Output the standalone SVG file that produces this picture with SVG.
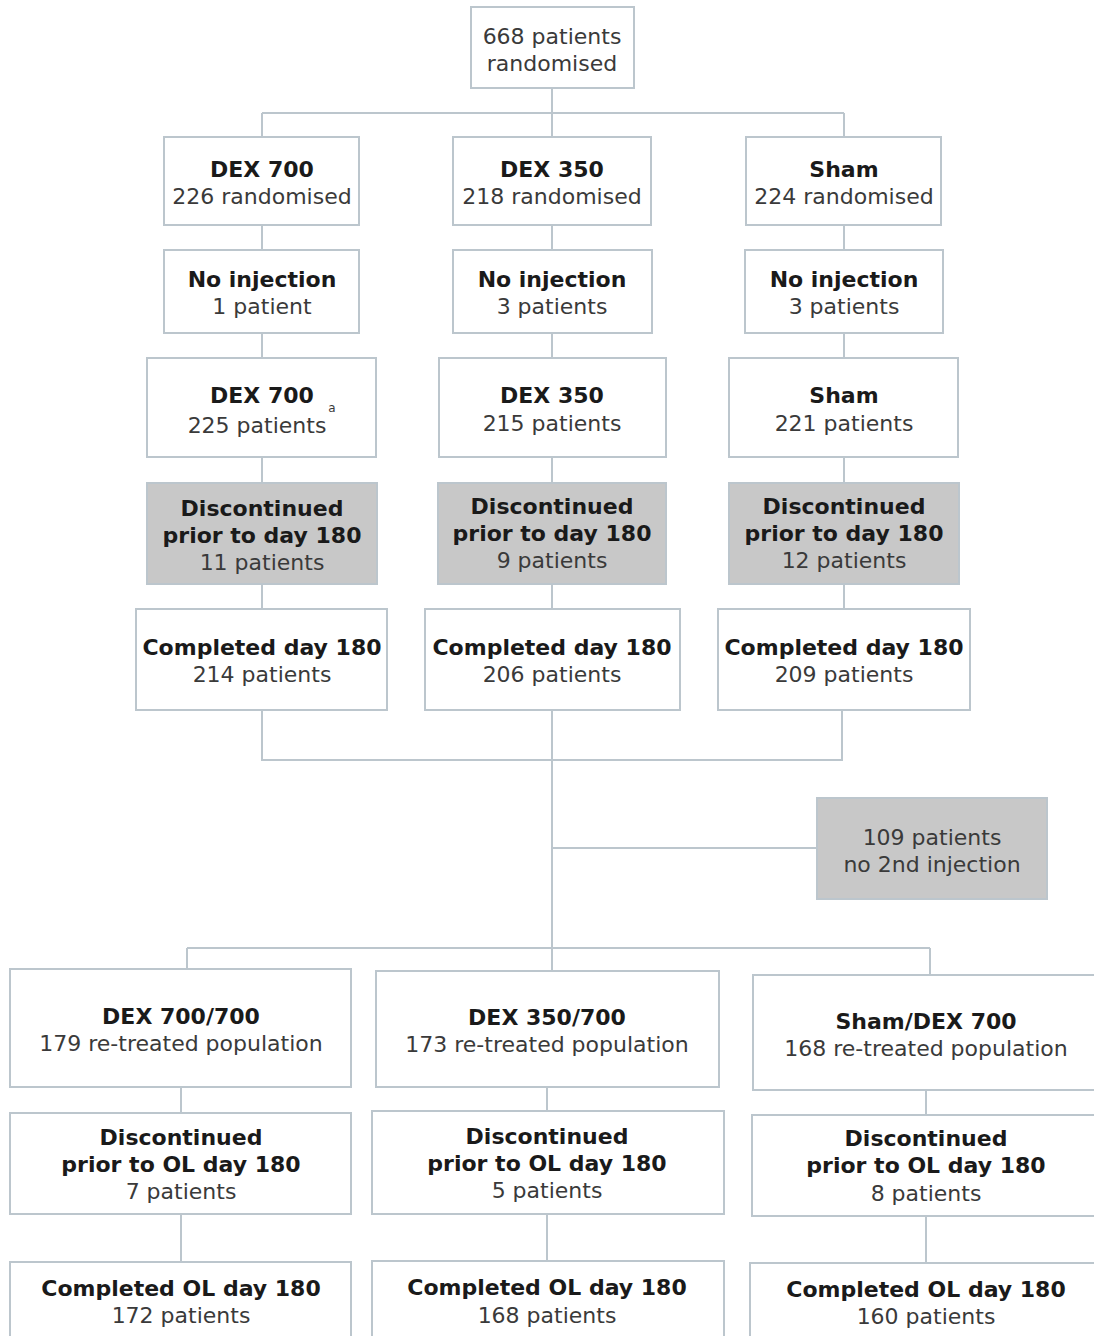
<svg xmlns="http://www.w3.org/2000/svg" width="1094" height="1336" viewBox="0 0 1094 1336">
<style>
.bx{fill:#ffffff;stroke:#bcc6cd;stroke-width:2}
.gx{fill:#c8c8c8;stroke:#bcc6cd;stroke-width:2}
.ln{fill:none;stroke:#bcc6cd;stroke-width:2}
text{font-family:"DejaVu Sans","Liberation Sans",sans-serif;font-size:22px;text-anchor:middle}
.b{font-weight:bold;fill:#1a1a1a}
.n{fill:#3a3a3a}
.sup{font-size:12px;fill:#3a3a3a}
</style>
<rect width="1094" height="1336" fill="#ffffff"/>
<g id="connectors">
<path class="ln" d="M552 88V113M262 113H844M262 113V137M552 113V137M844 113V137"/>
<path class="ln" d="M262 225V250M552 225V250M844 225V250"/>
<path class="ln" d="M262 333V358M552 333V358M844 333V358"/>
<path class="ln" d="M262 457V483M552 457V483M844 457V483"/>
<path class="ln" d="M262 584V609M552 584V609M844 584V609"/>
<path class="ln" d="M262 710V760H842V710M552 710V971M552 848H817"/>
<path class="ln" d="M187 948H930M187 948V969M930 948V975"/>
<path class="ln" d="M181 1087V1113M547 1087V1111M926 1090V1115"/>
<path class="ln" d="M181 1214V1262M547 1214V1261M926 1216V1263"/>
</g>
<g id="n-top"><rect class="bx" x="471" y="7" width="163" height="81"/><text class="n" x="552" y="44">668 patients</text><text class="n" x="552" y="71">randomised</text></g>
<g id="n-r1a"><rect class="bx" x="164" y="137" width="195" height="88"/><text class="b" x="262" y="177">DEX 700</text><text class="n" x="262" y="204">226 randomised</text></g>
<g id="n-r1b"><rect class="bx" x="453" y="137" width="198" height="88"/><text class="b" x="552" y="177">DEX 350</text><text class="n" x="552" y="204">218 randomised</text></g>
<g id="n-r1c"><rect class="bx" x="746" y="137" width="195" height="88"/><text class="b" x="844" y="177">Sham</text><text class="n" x="844" y="204">224 randomised</text></g>
<g id="n-r2a"><rect class="bx" x="164" y="250" width="195" height="83"/><text class="b" x="262" y="287">No injection</text><text class="n" x="262" y="314">1 patient</text></g>
<g id="n-r2b"><rect class="bx" x="453" y="250" width="199" height="83"/><text class="b" x="552" y="287">No injection</text><text class="n" x="552" y="314">3 patients</text></g>
<g id="n-r2c"><rect class="bx" x="745" y="250" width="198" height="83"/><text class="b" x="844" y="287">No injection</text><text class="n" x="844" y="314">3 patients</text></g>
<g id="n-r3a"><rect class="bx" x="147" y="358" width="229" height="99"/><text class="b" x="262" y="403">DEX 700</text><text class="n" x="257" y="433">225 patients</text><text class="sup" x="332" y="412">a</text></g>
<g id="n-r3b"><rect class="bx" x="439" y="358" width="227" height="99"/><text class="b" x="552" y="403">DEX 350</text><text class="n" x="552" y="431">215 patients</text></g>
<g id="n-r3c"><rect class="bx" x="729" y="358" width="229" height="99"/><text class="b" x="844" y="403">Sham</text><text class="n" x="844" y="431">221 patients</text></g>
<g id="n-r4a"><rect class="gx" x="147" y="483" width="230" height="101"/><text class="b" x="262" y="516">Discontinued</text><text class="b" x="262" y="543">prior to day 180</text><text class="n" x="262" y="570">11 patients</text></g>
<g id="n-r4b"><rect class="gx" x="438" y="483" width="228" height="101"/><text class="b" x="552" y="514">Discontinued</text><text class="b" x="552" y="541">prior to day 180</text><text class="n" x="552" y="568">9 patients</text></g>
<g id="n-r4c"><rect class="gx" x="729" y="483" width="230" height="101"/><text class="b" x="844" y="514">Discontinued</text><text class="b" x="844" y="541">prior to day 180</text><text class="n" x="844" y="568">12 patients</text></g>
<g id="n-r5a"><rect class="bx" x="136" y="609" width="251" height="101"/><text class="b" x="262" y="655">Completed day 180</text><text class="n" x="262" y="682">214 patients</text></g>
<g id="n-r5b"><rect class="bx" x="425" y="609" width="255" height="101"/><text class="b" x="552" y="655">Completed day 180</text><text class="n" x="552" y="682">206 patients</text></g>
<g id="n-r5c"><rect class="bx" x="718" y="609" width="252" height="101"/><text class="b" x="844" y="655">Completed day 180</text><text class="n" x="844" y="682">209 patients</text></g>
<g id="n-no2nd"><rect class="gx" x="817" y="798" width="230" height="101"/><text class="n" x="932" y="845">109 patients</text><text class="n" x="932" y="872">no 2nd injection</text></g>
<g id="n-b1a"><rect class="bx" x="10" y="969" width="341" height="118"/><text class="b" x="181" y="1024">DEX 700/700</text><text class="n" x="181" y="1051">179 re-treated population</text></g>
<g id="n-b1b"><rect class="bx" x="376" y="971" width="343" height="116"/><text class="b" x="547" y="1025">DEX 350/700</text><text class="n" x="547" y="1052">173 re-treated population</text></g>
<g id="n-b1c"><rect class="bx" x="753" y="975" width="345" height="115"/><text class="b" x="926" y="1029">Sham/DEX 700</text><text class="n" x="926" y="1056">168 re-treated population</text></g>
<g id="n-b2a"><rect class="bx" x="10" y="1113" width="341" height="101"/><text class="b" x="181" y="1145">Discontinued</text><text class="b" x="181" y="1172">prior to OL day 180</text><text class="n" x="181" y="1199">7 patients</text></g>
<g id="n-b2b"><rect class="bx" x="372" y="1111" width="352" height="103"/><text class="b" x="547" y="1144">Discontinued</text><text class="b" x="547" y="1171">prior to OL day 180</text><text class="n" x="547" y="1198">5 patients</text></g>
<g id="n-b2c"><rect class="bx" x="752" y="1115" width="346" height="101"/><text class="b" x="926" y="1146">Discontinued</text><text class="b" x="926" y="1173">prior to OL day 180</text><text class="n" x="926" y="1201">8 patients</text></g>
<g id="n-b3a"><rect class="bx" x="10" y="1262" width="341" height="80"/><text class="b" x="181" y="1296">Completed OL day 180</text><text class="n" x="181" y="1323">172 patients</text></g>
<g id="n-b3b"><rect class="bx" x="372" y="1261" width="352" height="80"/><text class="b" x="547" y="1295">Completed OL day 180</text><text class="n" x="547" y="1323">168 patients</text></g>
<g id="n-b3c"><rect class="bx" x="750" y="1263" width="348" height="80"/><text class="b" x="926" y="1297">Completed OL day 180</text><text class="n" x="926" y="1324">160 patients</text></g>
</svg>
